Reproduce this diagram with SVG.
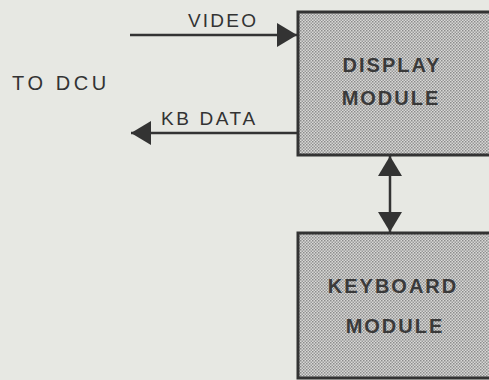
<svg xmlns="http://www.w3.org/2000/svg" width="489" height="380" viewBox="0 0 489 380">
<defs>
<pattern id="stip" width="3" height="3" patternUnits="userSpaceOnUse">
<rect width="3" height="3" fill="#d8d8d6"/>
<rect x="0" y="0" width="1.5" height="1.5" fill="#8c8c8c"/>
<rect x="1.5" y="1.5" width="1.5" height="1.5" fill="#9a9a9a"/>
</pattern>
<marker id="ah" viewBox="0 0 20 24" refX="20" refY="12" markerWidth="20" markerHeight="24" markerUnits="userSpaceOnUse" orient="auto-start-reverse">
<path d="M0,0 L20,12 L0,24 Z" fill="#333"/>
</marker>
</defs>
<style>
.box{fill:url(#stip);stroke:#333;stroke-width:3}
.lbl{font-family:"Liberation Sans",Arial,sans-serif;fill:#333;font-size:19px;letter-spacing:2.2px}
.bt{font-family:"Liberation Sans",Arial,sans-serif;fill:#3a3a3a;font-size:20px;font-weight:bold;letter-spacing:2px;text-anchor:middle}
.con{stroke:#333;stroke-width:2.5;fill:none}
</style>
<rect width="489" height="380" fill="#e7e8e3"/>
<g id="display">
<rect class="box" x="298" y="12" width="195" height="143"/>
<text class="bt" x="392" y="72">DISPLAY</text>
<text class="bt" x="391" y="105">MODULE</text>
</g>
<g id="keyboard">
<rect class="box" x="298" y="233" width="195" height="145"/>
<text class="bt" x="393" y="293">KEYBOARD</text>
<text class="bt" x="395" y="333">MODULE</text>
</g>
<g id="connectors">
<line class="con" x1="130" y1="35" x2="297" y2="35" marker-end="url(#ah)"/>
<line class="con" x1="297" y1="133" x2="131" y2="133" marker-end="url(#ah)"/>
<line class="con" x1="390" y1="156" x2="390" y2="232" marker-start="url(#ah)" marker-end="url(#ah)"/>
</g>
<g id="labels">
<text class="lbl" x="188" y="27">VIDEO</text>
<text class="lbl" x="161" y="125" style="letter-spacing:2.6px">KB DATA</text>
<text class="lbl" x="12" y="90" style="font-size:20px;letter-spacing:3.6px">TO DCU</text>
</g>
</svg>
